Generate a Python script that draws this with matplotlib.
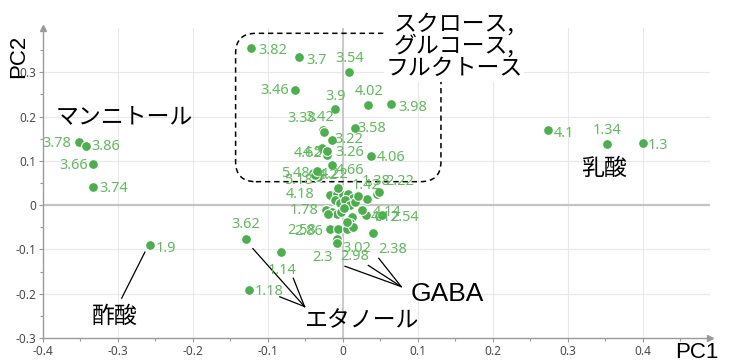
import matplotlib
matplotlib.use("Agg")
import matplotlib.pyplot as plt
from matplotlib.patches import FancyBboxPatch

plt.rcParams['font.family'] = ['Noto Sans', 'Noto Sans CJK JP', 'DejaVu Sans']

# sample scores (PC1, PC2) with their labels; '' = unlabeled sample
names = ['3.78', '3.86', '3.66', '3.74', '1.9', '3.62', '1.14', '1.18',
         '4.1', '1.34', '1.3',
         '3.82', '3.7', '3.54', '3.46', '3.9', '4.02', '3.98', '3.38', '3.42',
         '3.58', '3.22', '4.62', '4.5', '3.26', '4.06', '4.66',
         '5.48', '5.18', '4.2', '4.22', '1.38', '2.22', '1.42', '4.18', '1.78',
         '2.58', '2.86', '4.12', '4.14', '2.54', '3.02', '2.38', '2.98', '2.3',
         '', '', '', '', '', '', '', '', '', '', '', '', '', '', '', '', '', '',
         '', '', '']
pc1 = [-0.352, -0.343, -0.333, -0.333, -0.257, -0.129, -0.082, -0.125,
       0.274, 0.353, 0.401,
       -0.122, -0.059, 0.008, -0.064, -0.011, 0.034, 0.065, -0.027, -0.025,
       0.016, -0.015, -0.028, -0.021, -0.021, 0.037, -0.014,
       -0.040, -0.033, -0.037, -0.035, 0.045, 0.049, 0.032, -0.017, -0.023,
       -0.017, -0.007, 0.031, 0.049, 0.053, 0.006, 0.040, -0.008, -0.008,
       -0.008, 0.000, 0.007, 0.013, -0.011, -0.004, 0.003, 0.009, 0.016,
       -0.015, -0.008, -0.002, 0.025, 0.012, 0.009, 0.014, -0.020, 0.005,
       -0.007, 0.020, 0.001]
pc2 = [0.143, 0.134, 0.094, 0.040, -0.091, -0.077, -0.106, -0.192,
       0.169, 0.139, 0.141,
       0.354, 0.335, 0.300, 0.261, 0.217, 0.226, 0.228, 0.169, 0.166,
       0.175, 0.147, 0.128, 0.114, 0.123, 0.112, 0.091,
       0.072, 0.063, 0.069, 0.076, 0.026, 0.029, 0.014, 0.022, -0.010,
       -0.053, -0.055, -0.023, -0.025, -0.023, -0.055, -0.063, -0.076, -0.085,
       0.026, 0.022, 0.026, 0.017, 0.011, 0.004, 0.011, 0.000, 0.007,
       -0.016, -0.019, -0.016, -0.010, -0.027, -0.041, -0.049, -0.019, -0.038,
       0.038, 0.020, -0.007]

# label offsets in pixels from each point (text centre)
offsets = [(-22, -2), (20, -1), (-20, -2), (21, -1), (16, -3), (0, 15), (1, -18), (20, -1),
           (16, -3), (0, 13), (15, -3),
           (21, -2), (18, -4), (1, 14), (-20, -1), (1, 13), (1, 14), (21, -3), (-21, 12), (-4, 14),
           (17, -1), (17, 1), (-14, -5), (-14, 2), (23, -2), (21, -2), (18, -6),
           (-17, 0), (-20, -3), (13, -1), (18, -3), (0, 12), (20, 11), (-1, 13), (-30, 1), (-21, -1),
           (-28, -2), (-29, -2), (19, -2), (8, 4), (22, -2), (10, -19), (20, -16), (18, -18), (-14, -15)]

xticks = [-0.4, -0.3, -0.2, -0.1, 0, 0.1, 0.2, 0.3, 0.4]
xticklabels = ['-0.4', '-0.3', '-0.2', '-0.1', '0', '0.1', '0.2', '0.3', '0.4']
yticks = [-0.3, -0.2, -0.1, 0, 0.1, 0.2, 0.3]
yticklabels = ['-0.3', '-0.2', '-0.1', '0', '0.1', '0.2', '0.3']

dot_col = '#4cae4c'
lab_col = '#62b95e'
axis_col = '#9a9a9a'

fig = plt.figure(figsize=(7.3, 3.62), dpi=100)
ax = fig.add_axes([43/730, 1-338/362, 667/730, 310/362])
ax.set_xlim(-0.4, 0.49)
ax.set_ylim(-0.3, 0.4)

# grid
for gx in xticks[1:]:
    ax.axvline(gx, color='#e8e8e8', lw=0.8, zorder=0)
for gy in yticks[1:]:
    ax.axhline(gy, color='#e8e8e8', lw=0.8, zorder=0)
ax.axvline(0, color='#c4c4c4', lw=1.2, zorder=0.5)
ax.axhline(0, color='#c4c4c4', lw=1.6, zorder=0.5)

for s in ['top', 'right']:
    ax.spines[s].set_visible(False)
for s in ['left', 'bottom']:
    ax.spines[s].set_color(axis_col)
    ax.spines[s].set_linewidth(1.0)
ax.plot(1, 0, '>', color=axis_col, ms=4, transform=ax.transAxes, clip_on=False)
ax.plot(0, 1, '^', color=axis_col, ms=4, transform=ax.transAxes, clip_on=False)

ax.set_xticks(xticks)
ax.set_xticklabels(xticklabels)
ax.set_yticks(yticks)
ax.set_yticklabels(yticklabels)
ax.set_xticks([-0.35, -0.25, -0.15, -0.05, 0.05, 0.15, 0.25, 0.35, 0.45], minor=True)
ax.set_yticks([-0.25, -0.15, -0.05, 0.05, 0.15, 0.25, 0.35], minor=True)
ax.tick_params(which='both', colors=axis_col, labelcolor='#4a4a4a', labelsize=8.5,
               length=3, width=0.8, pad=2)
ax.tick_params(which='minor', length=2)

ax.scatter(pc1, pc2, s=50, color=dot_col, edgecolor='white', linewidth=0.8, zorder=3)

for name, x, y, off in zip(names, pc1, pc2, offsets):
    ax.annotate(name, (x, y), xytext=off, textcoords='offset pixels',
                ha='center', va='center', fontsize=10.5, color=lab_col, zorder=4)

# dashed group outline (sugars)
box = FancyBboxPatch((-0.143, 0.053), 0.274, 0.335,
                     boxstyle='round,pad=0,rounding_size=0.027', mutation_aspect=1.67,
                     fill=False, ec='black', lw=1.1, ls=(0, (3.5, 2.5)), zorder=2, clip_on=False)
ax.add_patch(box)

# leader lines
lk = dict(color='black', lw=0.9, zorder=2)
ax.plot([-0.264, -0.295], [-0.106, -0.210], **lk)
for sx, sy in [(-0.120, -0.098), (-0.066, -0.165), (-0.084, -0.207)]:
    ax.plot([sx, -0.051], [sy, -0.229], **lk)
for sx, sy in [(0.003, -0.138), (0.034, -0.136), (0.048, -0.120)]:
    ax.plot([sx, 0.078], [sy, -0.184], **lk)

jp = dict(ha='center', va='center', fontsize=16.5, color='black', zorder=5,
          family=['Noto Sans CJK JP', 'DejaVu Sans'])
ax.text(-0.292, 0.199, 'マンニトール', **jp)
ax.text(0.149, 0.359, 'スクロース,\nグルコース,\nフルクトース', linespacing=0.95,
        multialignment='center', clip_on=False,
        bbox=dict(facecolor='white', edgecolor='none', pad=1), **jp)
ax.text(0.349, 0.082, '乳酸', **jp)
ax.text(-0.304, -0.252, '酢酸', **jp)
ax.text(0.025, -0.262, 'エタノール', **jp)
ax.text(0.140, -0.201, 'GABA', ha='center', va='center', fontsize=19,
        family='Liberation Sans', zorder=5)

fig.text(19/730, 1-56/362, 'PC2', rotation=90, ha='center', va='center',
         fontsize=16, family='Liberation Sans')
fig.text(697/730, 1-352/362, 'PC1', ha='center', va='center',
         fontsize=16, family='Liberation Sans')

fig.savefig('out.png', dpi=100)
